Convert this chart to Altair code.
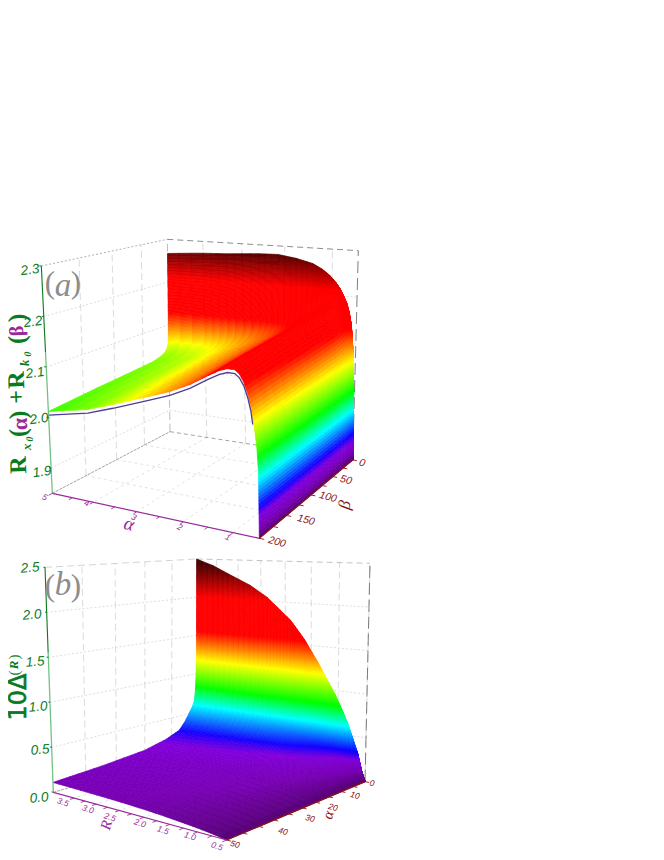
import math
import numpy as np
import altair as alt

# ---------- values ----------
# panel (a)
A_alpha = [5, 4, 3.4, 2.6, 2.15, 1.75, 1.4, 1.2, 1.05, 0.92, 0.84, 0.77, 0.7, 0.65, 0.6, 0.55, 0.52, 0.5]
A_front = [2.012, 2.03, 2.048, 2.075, 2.091, 2.11, 2.132, 2.144, 2.15, 2.15, 2.143, 2.13, 2.108, 2.085, 2.055, 2.015, 1.97, 1.85]
A_back = [2.267, 2.273, 2.275, 2.28, 2.281, 2.275, 2.266, 2.255, 2.243, 2.228, 2.216, 2.202, 2.186, 2.168, 2.14, 2.08, 2.0, 1.85]
A_keep = [1, 1, 1, 1, 1, 1, 1, 1, 1, 1, 1, 1, 1, 1, 1, 1, 0.3, 0]
A_beta = [0, 0.1, 0.3, 0.6, 1, 2, 4, 8, 15, 30, 70, 130, 200]
A_lift = [0.052, 0.052, 0.052, 0.052, 0.052, 0.043, 0.034, 0.027, 0.022, 0.017, 0.013, 0.008, 0]
A_wall = [1, 0.4, 0.2, 0.08, 0, 0, 0, 0, 0, 0, 0, 0, 0]
A_zticks = [1.9, 2.0, 2.1, 2.2, 2.3]
A_aticks = [5, 4, 3, 2, 1]
A_bticks = [0, 50, 100, 150, 200]
# panel (b)
B_r = [4, 3.59, 3.11, 2.74, 2.37, 1.90, 1.63, 1.375, 1.06, 0.94, 0.82, 0.64, 0.56, 0.5]
B_back = [2.5, 2.42, 2.29, 2.19, 2.05, 1.79, 1.57, 1.31, 0.96, 0.8, 0.63, 0.31, 0.107, 0]
B_q = [0, 0.02, 0.05, 0.1, 0.25, 0.5, 1, 1.8, 3, 5, 7, 12, 20, 35, 50]
B_share = [1, 0.8, 0.62, 0.5, 0.4, 0.316, 0.26, 0.232, 0.204, 0.16, 0.128, 0.1, 0.074, 0.056, 0.044]
B_zticks = [0.0, 0.5, 1.0, 1.5, 2.0, 2.5]
B_rticks = [3.5, 3.0, 2.5, 2.0, 1.5, 1.0, 0.5]
B_qticks = [0, 10, 20, 30, 40, 50]
# colour ramp against the height share of the box
RAMP_AT = [0, 0.04, 0.09, 0.127, 0.24, 0.33, 0.47, 0.62, 0.80, 0.95, 1]
RAMP = ["#550073", "#7800b4", "#8200dc", "#1400ff", "#00ffff", "#00ff00", "#ffff00", "#ff0000", "#ff0000", "#5a0000", "#3c0000"]

# ---------- camera: box corners on the page (back-left, back-right, front-right, front-left) ----------
def zm(x, y, ox, oy):
    return (x / 3 + ox - 8, y / 3 + oy - 8)

A_floor = [zm(510, 605, 0, 230), zm(1058, 690, 0, 230), zm(778, 925, 0, 230), zm(157, 790, 0, 230)]
A_top = [zm(502, 28, 0, 230), zm(1075, 62, 0, 230), zm(781, 183, 0, 230), zm(124, 108, 0, 230)]
B_floor = [zm(590, 600, 0, 550), zm(1095, 695, 0, 550), zm(680, 870, 0, 550), zm(160, 727, 0, 550)]
B_top = [zm(590, 27, 0, 550), zm(1110, 40, 0, 550), zm(686, 80, 0, 550), zm(135, 52, 0, 550)]


def homography(q):
    src = [(0, 0), (1, 0), (1, 1), (0, 1)]
    M, r = [], []
    for (u, v), (x, y) in zip(src, q):
        M.append([u, v, 1, 0, 0, 0, -u * x, -v * x]); r.append(x)
        M.append([0, 0, 0, u, v, 1, -u * y, -v * y]); r.append(y)
    h = np.linalg.solve(np.array(M, float), np.array(r, float))
    return np.append(h, 1).reshape(3, 3)


class Box:
    def __init__(self, floor, top, a0, a1, b1, z0, z1):
        self.H0, self.H1 = homography(floor), homography(top)
        self.a0, self.a1, self.b1, self.z0, self.z1 = a0, a1, b1, z0, z1

    def uv(self, u, v, z):
        p = np.array([u, v, 1.0])
        p0, p1 = self.H0 @ p, self.H1 @ p
        p0, p1 = p0 / p0[2], p1 / p1[2]
        t = (z - self.z0) / (self.z1 - self.z0)
        return p0[:2] + t * (p1[:2] - p0[:2])

    def at(self, a, b, z):
        return self.uv((self.a0 - a) / (self.a0 - self.a1), b / self.b1, z)


boxA = Box(A_floor, A_top, 5, 0.5, 200, 1.85, 2.3)
boxB = Box(B_floor, B_top, 4, 0.5, 50, 0, 2.5)

zA = np.zeros((len(A_beta), len(A_alpha)))
for j in range(len(A_beta)):
    for i in range(len(A_alpha)):
        base = A_front[i] + A_lift[j] * A_keep[i]
        zA[j, i] = base + A_wall[j] * (A_back[i] - base)
zB = np.array([[B_back[i] * B_share[j] for i in range(len(B_r))] for j in range(len(B_q))])


def refine(grid, spread, dz, least):
    out = []
    for k in range(len(grid) - 1):
        n = max(least, int(math.ceil(spread[k] / dz)))
        for s in range(n):
            out.append(k + s / n)
    out.append(len(grid) - 1.0)
    return out


def sample(z, fj, fi):
    j, i = min(int(fj), z.shape[0] - 2), min(int(fi), z.shape[1] - 2)
    dj, di = fj - j, fi - i
    return (z[j, i] * (1 - dj) * (1 - di) + z[j, i + 1] * (1 - dj) * di
            + z[j + 1, i] * dj * (1 - di) + z[j + 1, i + 1] * dj * di)


def lerp(grid, f):
    k = min(int(f), len(grid) - 2)
    return grid[k] + (f - k) * (grid[k + 1] - grid[k])


def surface(box, z, a_grid, b_grid, dz_a, dz_b, least_a, least_b):
    fi = refine(a_grid, np.abs(np.diff(z, axis=1)).max(axis=0), dz_a, least_a)
    fj = refine(b_grid, np.abs(np.diff(z, axis=0)).max(axis=1), dz_b, least_b)
    Z = np.array([[sample(z, j, i) for i in fi] for j in fj])
    aa = [lerp(a_grid, i) for i in fi]
    bb = [lerp(b_grid, j) for j in fj]
    XY = [[box.at(aa[i], bb[j], Z[j, i]) for i in range(len(fi))] for j in range(len(fj))]
    feats = []
    for j in range(len(fj) - 1):
        for i in range(len(fi) - 2, -1, -1):
            ring = [XY[j][i], XY[j][i + 1], XY[j + 1][i + 1], XY[j + 1][i], XY[j][i]]
            zm_ = (Z[j, i] + Z[j, i + 1] + Z[j + 1, i] + Z[j + 1, i + 1]) / 4
            feats.append({"type": "Feature",
                          "geometry": {"type": "Polygon", "coordinates": [[[round(float(p[0]), 2), round(float(p[1]), 2)] for p in ring]]},
                          "properties": {"t": round(float((zm_ - box.z0) / (box.z1 - box.z0)), 4)}})
    return feats


W, H = 648, 844
X = alt.X("x:Q", scale=alt.Scale(domain=[0, W], nice=False), axis=None)
Y = alt.Y("y:Q", scale=alt.Scale(domain=[H, 0], nice=False), axis=None)


def lines(segments, color, width=1.0, dash=None, opacity=1.0):
    rows = []
    for n, seg in enumerate(segments):
        for k, p in enumerate(seg):
            rows.append({"id": n, "ord": k, "x": round(float(p[0]), 2), "y": round(float(p[1]), 2)})
    kw = dict(color=color, strokeWidth=width, opacity=opacity, clip=False)
    if dash:
        kw["strokeDash"] = dash
    return alt.Chart(alt.Data(values=rows)).mark_line(**kw).encode(x=X, y=Y, detail="id:N", order="ord:Q")


def texts(rows, font="Liberation Sans", style="normal", weight="normal", **extra):
    return alt.Chart(alt.Data(values=rows)).mark_text(
        font=font, fontStyle=style, fontWeight=weight, align="center", baseline="middle", **extra
    ).encode(x=X, y=Y, text="text:N", angle=alt.Angle("angle:Q", scale=None),
             size=alt.Size("size:Q", scale=None, legend=None), color=alt.Color("color:N", scale=None, legend=None))


def T(text, px, py, size, color, angle=0):
    return {"text": text, "x": px - 8, "y": py - 8, "size": size, "color": color, "angle": angle % 360}


def surf_layer(feats):
    scale = alt.Scale(domain=RAMP_AT, range=RAMP, interpolate="rgb")
    return alt.Chart(alt.Data(values=feats)).mark_geoshape(strokeWidth=0.7).encode(
        fill=alt.Fill("properties.t:Q", scale=scale, legend=None),
        stroke=alt.Stroke("properties.t:Q", scale=scale, legend=None),
    ).project(type="identity", scale=1, translate=[0, 0])


GREEN, GREEN_L, PURP, DRED = "#0a7a1e", "#74c284", "#9a2a9a", "#8a1414"


def frame(box, a_ticks, b_ticks, z_ticks, top_left, top_back, left_dash):
    """wall and floor grid lines"""
    a0, a1, b1, z0, z1 = box.a0, box.a1, box.b1, box.z0, box.z1
    verts_left = [[box.at(a0, b, z0), box.at(a0, b, z1)] for b in b_ticks if 0 < b < b1]
    verts_back = [[box.at(a, 0, z0), box.at(a, 0, z1)] for a in a_ticks if a != a0]
    hz_left = [[box.at(a0, b1, z), box.at(a0, 0, z), box.at(a1, 0, z)] for z in z_ticks if z < z1 and z > z0]
    floor = [[box.at(a, 0, z0), box.at(a, b1, z0)] for a in a_ticks if a != a0 and a != a1]
    floor += [[box.at(a0, b, z0), box.at(a1, b, z0)] for b in b_ticks if 0 < b < b1]
    return [
        lines(verts_left + verts_back, "#dcdcdc", 1, [7, 4]),
        lines(hz_left, "#d4d4d4", 0.8, [2, 2]),
        lines(floor, "#dcdcdc", 0.8, [3, 3]),
        lines([[box.at(a0, b1, z1), box.at(a0, 0, z1)]], top_left, 0.8, left_dash),
        lines([[box.at(a0, 0, z1), box.at(a1, 0, z1)]], top_back, 0.8, [6, 4]),
        lines([[box.at(a1, 0, z0), box.at(a1, 0, z1)]], "#6e6e6e", 0.9, [12, 5]),
        lines([[box.at(a0, 0, z0), box.at(a0, 0, z1)]], "#b4b4b4", 0.9, [8, 4]),
        lines([[box.at(a0, b1, z0), box.at(a0, 0, z0)]], "#8c8c8c", 0.8, [3, 1]),
        lines([[box.at(a0, 0, z0), box.at(a1, 0, z0)]], "#8c8c8c", 0.8, [4, 3]),
    ]


def axes(box, a_ticks, b_ticks, z_ticks, a_minor, b_minor):
    a0, a1, b1, z0, z1 = box.a0, box.a1, box.b1, box.z0, box.z1
    return [
        lines([[box.at(a0, b1, z0), box.at(a0, b1, z0 + 0.62 * (z1 - z0))]], GREEN_L, 1.3),
        lines([[box.at(a0, b1, z0 + 0.62 * (z1 - z0)), box.at(a0, b1, z1)]], GREEN, 1.1),
        lines([[box.at(a0, b1, z), box.uv(-0.012, 1.0, z)] for z in z_ticks], GREEN, 1),
        lines([[box.at(a0, b1, z0), box.at(a1, b1, z0)]], PURP, 1.2),
        lines([[box.at(a, b1, z0), box.uv((a0 - a) / (a0 - a1), 1.025, z0)] for a in list(a_ticks) + list(a_minor)], PURP, 0.9),
        lines([[box.at(a1, 0, z0), box.at(a1, b1, z0)]], DRED, 1.2),
        lines([[box.at(a1, b, z0), box.uv(1.02, b / b1, z0)] for b in list(b_ticks) + list(b_minor)], DRED, 0.9),
    ]


# panel (a) texts
za = []
for z, (px, py) in zip(A_zticks[::-1], [(30, 270), (33, 322), (35, 373), (39, 419), (42, 472)]):
    za.append(T(f"{z:.1f}", px, py, 13.5, GREEN, -8))
for a, (px, py) in zip(A_aticks, [(45, 497), (87, 503), (134, 517), (180, 527), (228, 537)]):
    za.append(T(str(a), px, py, 8.5, PURP, 25))
for b, (px, py) in zip(A_bticks, [(362, 463), (346, 480), (328, 497), (306, 520), (277, 542)]):
    za.append(T(str(b), px, py, 10.5, DRED, 15))
# panel (b) texts
for z, (px, py) in zip(B_zticks[::-1], [(30, 568), (32, 615), (35, 662), (38, 707), (40, 750), (39, 798)]):
    za.append(T(f"{z:.1f}", px, py, 13.5, GREEN, -4))
for r, (px, py) in zip(B_rticks, [(63, 802), (88, 809), (110, 817), (140, 823), (163, 830), (190, 836), (217, 846)]):
    za.append(T(f"{r:.1f}", px, py, 8.5, PURP, 18))
for q, (px, py) in zip(B_qticks, [(372, 783), (355, 795), (333, 807), (310, 818), (283, 831), (235, 844)]):
    za.append(T(str(q), px, py, 8.5, DRED, 15))

serif_bold = [
    T("R", 19, 465, 24, GREEN, 268), T("(", 18, 433, 25, GREEN, 268), T("\u03b1", 20, 424, 22, PURP, 268),
    T(")", 18, 415, 25, GREEN, 268), T("+", 17, 397, 24, GREEN, 268), T("R", 17, 380, 24, GREEN, 268),
    T("(", 17, 340, 25, GREEN, 268), T("\u03b2", 17, 331, 20, PURP, 268), T(")", 17, 318, 25, GREEN, 268),
]
subs = [
    T("x", 27, 447, 13, GREEN, 268), T("0", 30, 439, 10, GREEN, 268),
    T("k", 25, 363, 13, GREEN, 268), T("0", 28, 354, 10, GREEN, 268),
    T("R", 14, 665, 13, GREEN, 270),
]
sans_big = [T("10\u0394", 19, 697, 24, GREEN, 270)]
serif_plain = [T("(", 14, 673, 15, GREEN, 270), T(")", 14, 657, 15, GREEN, 270)]
names = [T("\u03b1", 129, 524, 19, PURP, 15), T("\u03b2", 345, 505, 17, DRED, 280),
         T("R", 106, 825, 15, PURP, 285), T("\u03b1", 328, 815, 15, DRED, 285)]
par_up = [T("(", 50, 284, 31, "#8c8c8c"), T(")", 76, 284, 31, "#8c8c8c"),
          T("(", 50, 587, 31, "#8c8c8c"), T(")", 76, 587, 31, "#8c8c8c")]
par_it = [T("a", 63, 286, 33, "#8c8c8c"), T("b", 63, 585, 33, "#8c8c8c")]

edge_low = [boxA.at(a, 200, z - 0.007) for a, z in zip(A_alpha[:14], A_front[:14])]
edge_low.append(boxA.at(0.62, 200, 2.055))

layers = []
layers += frame(boxA, A_aticks, A_bticks, A_zticks, "#9a9a9a", "#6e6e6e", [2, 2])
layers += frame(boxB, B_rticks, B_qticks, B_zticks, "#c8c8c8", "#b4b4b4", [7, 4])
layers.append(surf_layer(surface(boxA, zA, A_alpha, A_beta, 0.008, 0.0035, 2, 4)))
layers.append(surf_layer(surface(boxB, zB, B_r, B_q, 0.04, 0.015, 3, 6)))
layers.append(lines([edge_low], "#4b3c96", 1.3))
layers += axes(boxA, A_aticks, A_bticks, A_zticks, [4.5, 3.5, 2.5, 1.5], [25, 75, 125, 175])
layers += axes(boxB, B_rticks, B_qticks, B_zticks, [3.25, 2.75, 2.25, 1.75, 1.25, 0.75], [5, 15, 25, 35, 45])
layers.append(texts(za, style="italic"))
layers.append(texts(serif_bold, font="Liberation Serif", weight="bold"))
layers.append(texts(subs, font="Liberation Serif", style="italic", weight="bold"))
layers.append(texts(sans_big, font="DejaVu Sans", stroke=GREEN, strokeWidth=0.6))
layers.append(texts(serif_plain, font="Liberation Serif"))
layers.append(texts(names, font="Liberation Serif", style="italic"))
layers.append(texts(par_up, font="Liberation Serif"))
layers.append(texts(par_it, font="Liberation Serif", style="italic"))

chart = alt.layer(*layers).properties(
    width=W, height=H, padding=0, background="white",
    autosize=alt.AutoSizeParams(type="none"),
).configure_view(stroke=None)
chart.save("out.html", embed_options={"renderer": "svg", "actions": False})
